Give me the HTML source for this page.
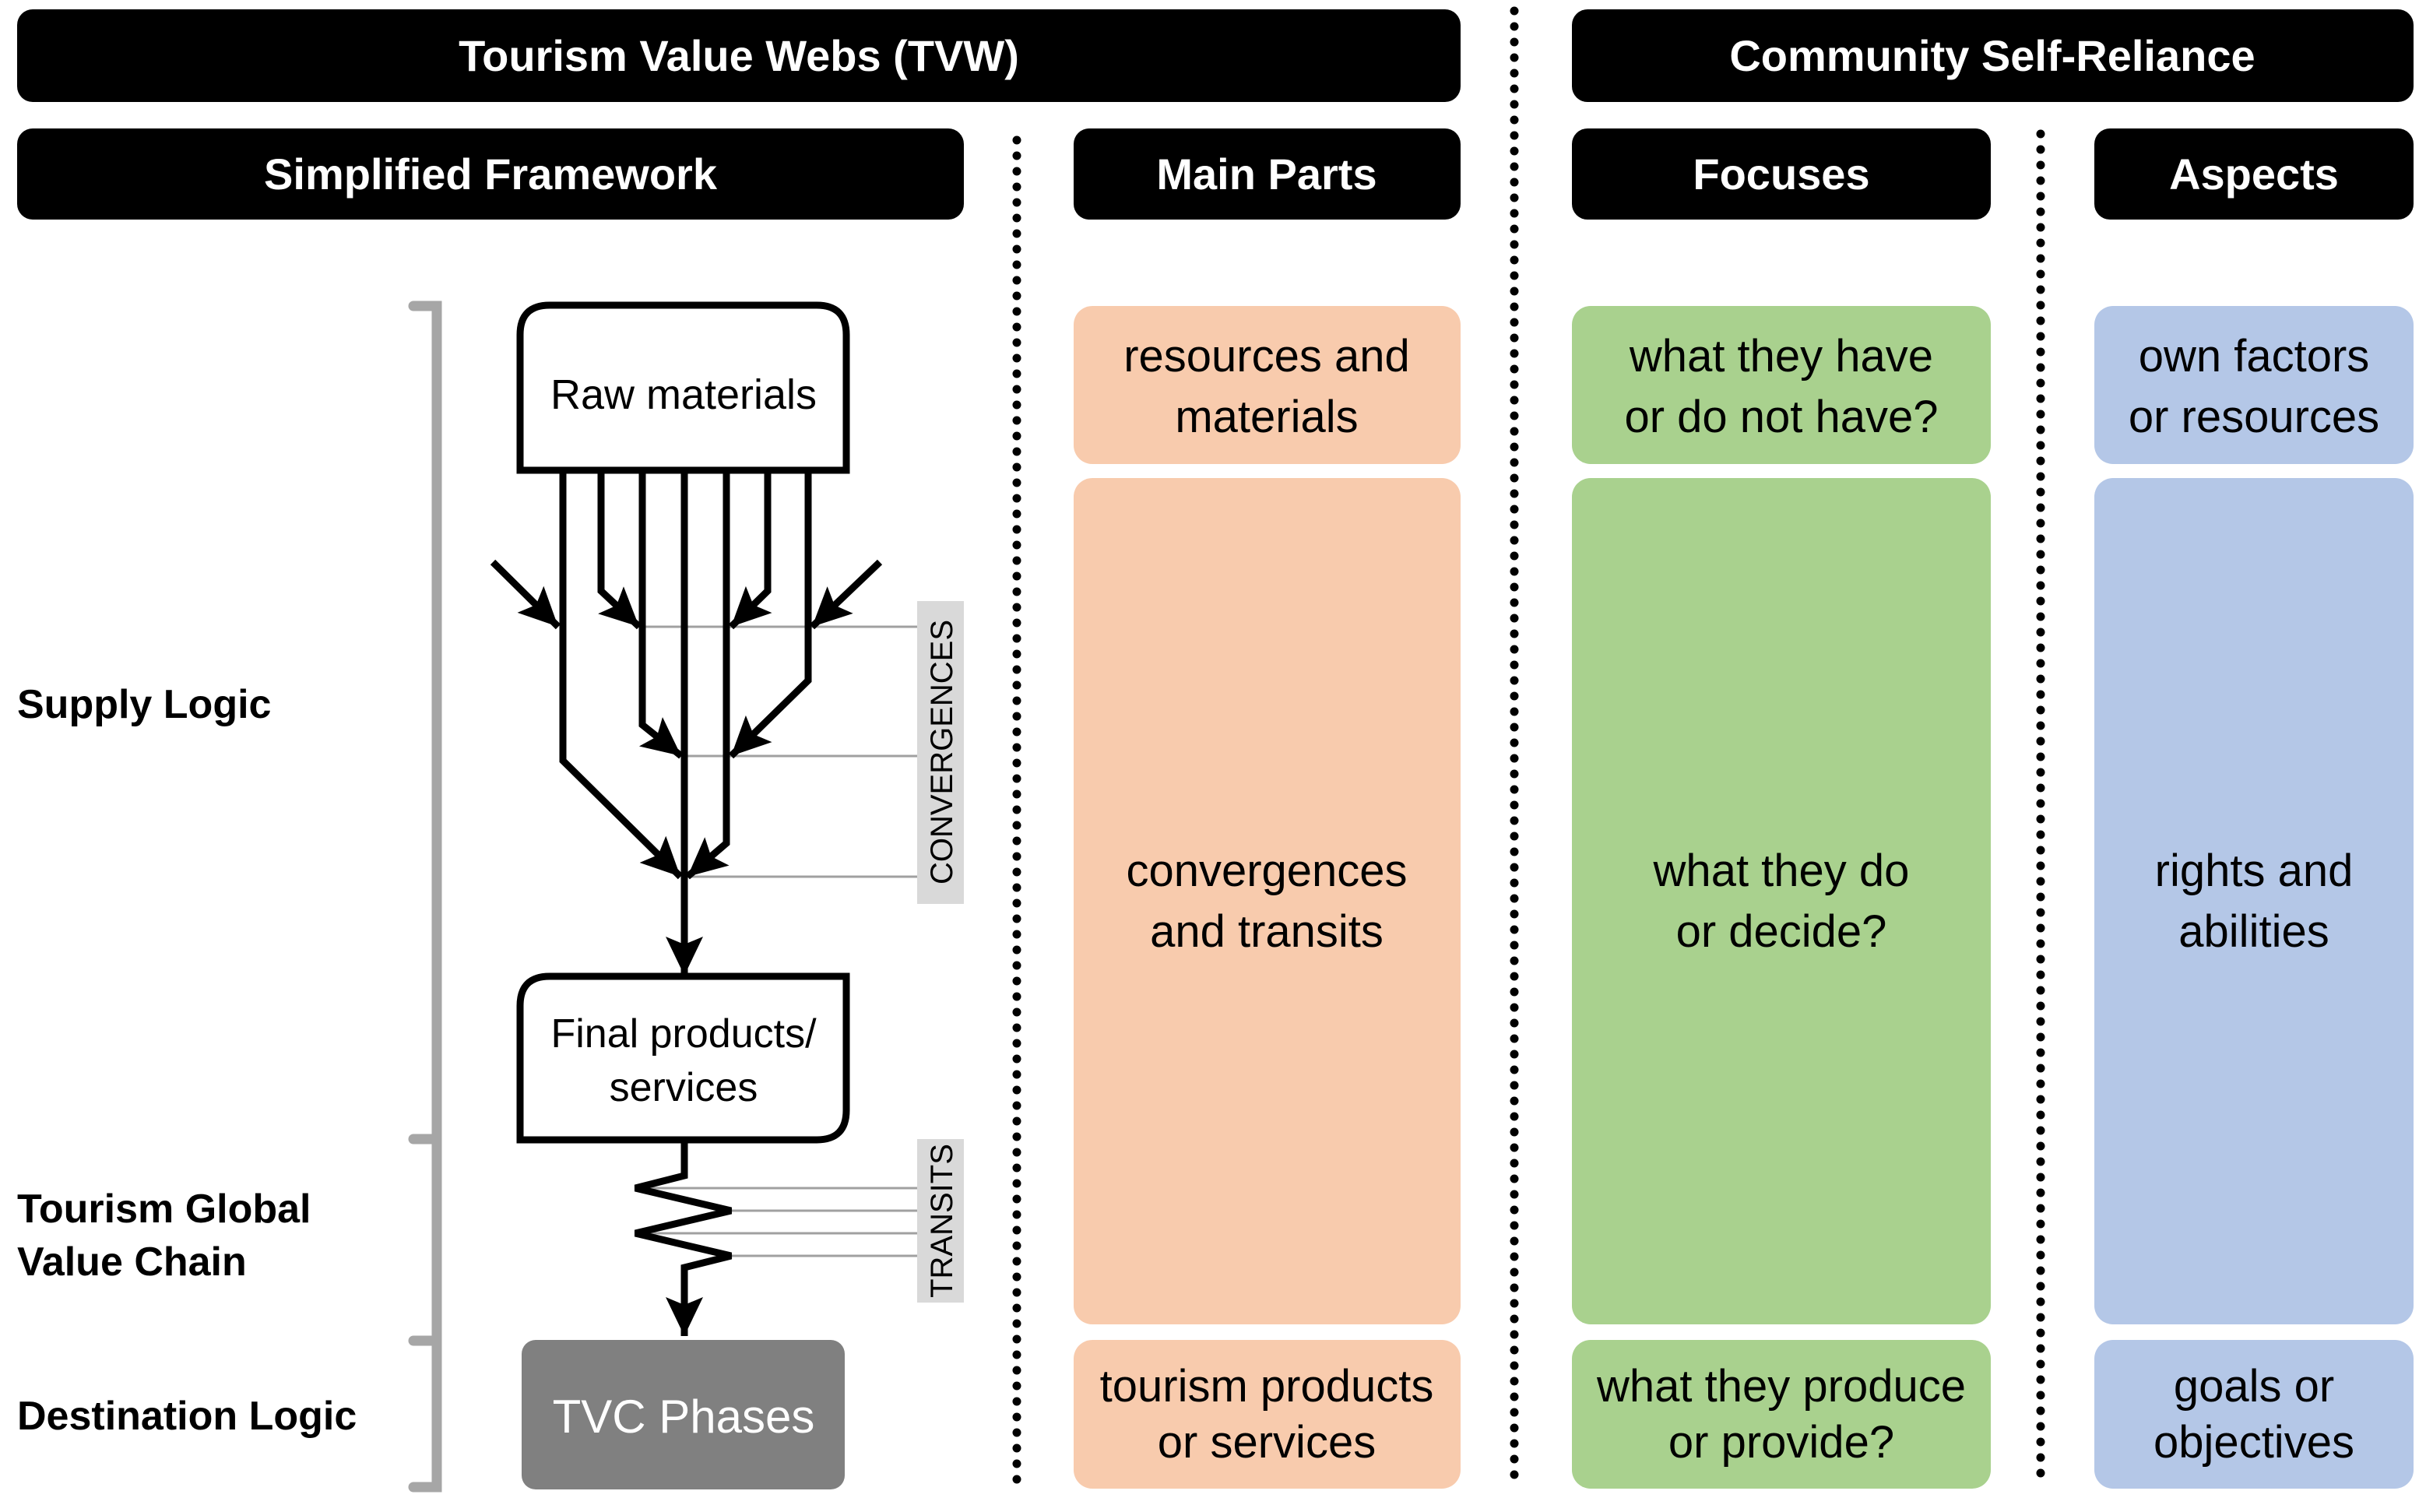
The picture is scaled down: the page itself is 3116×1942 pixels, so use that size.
<!DOCTYPE html>
<html><head><meta charset="utf-8"><style>
html,body{margin:0;padding:0;background:#fff}
svg{display:block}
text{font-family:"Liberation Sans",sans-serif}
</style></head><body>
<svg width="3116" height="1942" viewBox="0 0 3116 1942" xmlns="http://www.w3.org/2000/svg">
<defs>
<marker id="ah" markerUnits="userSpaceOnUse" markerWidth="60" markerHeight="60" viewBox="0 0 60 60" refX="50" refY="30" orient="auto">
<path d="M0,6 L50,30 L0,54 L10,30 Z" fill="#000"/>
</marker>
</defs>
<!-- headers -->
<rect x="22" y="12" width="1854" height="119" rx="20" fill="#000"/>
<text x="949" y="91" font-size="56" font-weight="bold" fill="#fff" text-anchor="middle">Tourism Value Webs (TVW)</text>
<rect x="2019" y="12" width="1081" height="119" rx="20" fill="#000"/>
<text x="2559" y="91" font-size="56" font-weight="bold" fill="#fff" text-anchor="middle">Community Self-Reliance</text>
<rect x="22" y="165" width="1216" height="117" rx="20" fill="#000"/>
<text x="630" y="243" font-size="56" font-weight="bold" fill="#fff" text-anchor="middle">Simplified Framework</text>
<rect x="1379" y="165" width="497" height="117" rx="20" fill="#000"/>
<text x="1627" y="243" font-size="56" font-weight="bold" fill="#fff" text-anchor="middle">Main Parts</text>
<rect x="2019" y="165" width="538" height="117" rx="20" fill="#000"/>
<text x="2288" y="243" font-size="56" font-weight="bold" fill="#fff" text-anchor="middle">Focuses</text>
<rect x="2690" y="165" width="410" height="117" rx="20" fill="#000"/>
<text x="2895" y="243" font-size="56" font-weight="bold" fill="#fff" text-anchor="middle">Aspects</text>
<!-- dotted lines -->
<g stroke="#000" stroke-width="11" stroke-linecap="round" stroke-dasharray="0 20">
<line x1="1306" y1="180" x2="1306" y2="1912"/>
<line x1="1945" y1="14" x2="1945" y2="1912"/>
<line x1="2621" y1="172" x2="2621" y2="1912"/>
</g>
<!-- content boxes -->
<g font-size="58" text-anchor="middle" fill="#000">
<rect x="1379" y="393" width="497" height="203" rx="24" fill="#f8cbad"/>
<text x="1627" y="477">resources and</text><text x="1627" y="555">materials</text>
<rect x="1379" y="614" width="497" height="1087" rx="24" fill="#f8cbad"/>
<text x="1627" y="1138">convergences</text><text x="1627" y="1216">and transits</text>
<rect x="1379" y="1721" width="497" height="191" rx="24" fill="#f8cbad"/>
<text x="1627" y="1800">tourism products</text><text x="1627" y="1872">or services</text>
<rect x="2019" y="393" width="538" height="203" rx="24" fill="#a9d18e"/>
<text x="2288" y="477">what they have</text><text x="2288" y="555">or do not have?</text>
<rect x="2019" y="614" width="538" height="1087" rx="24" fill="#a9d18e"/>
<text x="2288" y="1138">what they do</text><text x="2288" y="1216">or decide?</text>
<rect x="2019" y="1721" width="538" height="191" rx="24" fill="#a9d18e"/>
<text x="2288" y="1800">what they produce</text><text x="2288" y="1872">or provide?</text>
<rect x="2690" y="393" width="410" height="203" rx="24" fill="#b4c7e7"/>
<text x="2895" y="477">own factors</text><text x="2895" y="555">or resources</text>
<rect x="2690" y="614" width="410" height="1087" rx="24" fill="#b4c7e7"/>
<text x="2895" y="1138">rights and</text><text x="2895" y="1216">abilities</text>
<rect x="2690" y="1721" width="410" height="191" rx="24" fill="#b4c7e7"/>
<text x="2895" y="1800">goals or</text><text x="2895" y="1872">objectives</text>
</g>
<!-- left labels -->
<g font-size="52" font-weight="bold" fill="#000">
<text x="22" y="922">Supply Logic</text>
<text x="22" y="1570">Tourism Global</text>
<text x="22" y="1638">Value Chain</text>
<text x="22" y="1836">Destination Logic</text>
</g>
<!-- bracket -->
<g stroke="#a6a6a6" stroke-width="13" stroke-linecap="round" fill="none">
<polyline points="531,393 561,393 561,1910 531,1910"/>
<line x1="531" y1="1463" x2="561" y2="1463"/>
<line x1="531" y1="1722" x2="561" y2="1722"/>
</g>
<!-- gray guide lines -->
<g stroke="#a0a0a0" stroke-width="3">
<line x1="821" y1="805" x2="1178" y2="805"/>
<line x1="875" y1="971" x2="1178" y2="971"/>
<line x1="879" y1="1126" x2="1178" y2="1126"/>
<line x1="816" y1="1526" x2="1178" y2="1526"/>
<line x1="939" y1="1555" x2="1178" y2="1555"/>
<line x1="816" y1="1584" x2="1178" y2="1584"/>
<line x1="939" y1="1613" x2="1178" y2="1613"/>
</g>
<rect x="1178" y="772" width="60" height="389" fill="#d9d9d9"/>
<text transform="translate(1223,966) rotate(-90)" font-size="40" text-anchor="middle" fill="#000">CONVERGENCES</text>
<rect x="1178" y="1463" width="60" height="210" fill="#d9d9d9"/>
<text transform="translate(1223,1568) rotate(-90)" font-size="40" text-anchor="middle" fill="#000">TRANSITS</text>
<!-- boxes -->
<path d="M668,604 L668,430 Q668,392 706,392 L1049,392 Q1087,392 1087,430 L1087,604 Z" fill="#fff" stroke="#000" stroke-width="9"/>
<text x="878" y="525" font-size="54" text-anchor="middle">Raw materials</text>
<path d="M706,1254 L1087,1254 L1087,1426 Q1087,1464 1049,1464 L668,1464 L668,1292 Q668,1254 706,1254 Z" fill="#fff" stroke="#000" stroke-width="9"/>
<text x="878" y="1345" font-size="52" text-anchor="middle">Final products/</text>
<text x="878" y="1414" font-size="52" text-anchor="middle">services</text>
<rect x="670" y="1721" width="415" height="192" rx="18" fill="#808080"/>
<text x="878" y="1840" font-size="60" text-anchor="middle" fill="#fff">TVC Phases</text>
<!-- arrows -->
<g stroke="#000" stroke-width="9" fill="none" stroke-linejoin="miter">
<polyline points="633,722 717,805" marker-end="url(#ah)"/>
<polyline points="772,606 772,759 821,805" marker-end="url(#ah)"/>
<polyline points="825,606 825,931 875,971" marker-end="url(#ah)"/>
<polyline points="723,606 723,977 874,1126" marker-end="url(#ah)"/>
<polyline points="879,606 879,1253" marker-end="url(#ah)"/>
<polyline points="933,606 933,1083 883,1126" marker-end="url(#ah)"/>
<polyline points="986,606 986,759 939,805" marker-end="url(#ah)"/>
<polyline points="1038,606 1038,874 939,971" marker-end="url(#ah)"/>
<polyline points="1130,722 1043,805" marker-end="url(#ah)"/>
<polyline points="879,1468 879,1510 816,1526 939,1555 816,1584 939,1613 879,1628 879,1716" marker-end="url(#ah)"/>
</g>
</svg>
</body></html>
